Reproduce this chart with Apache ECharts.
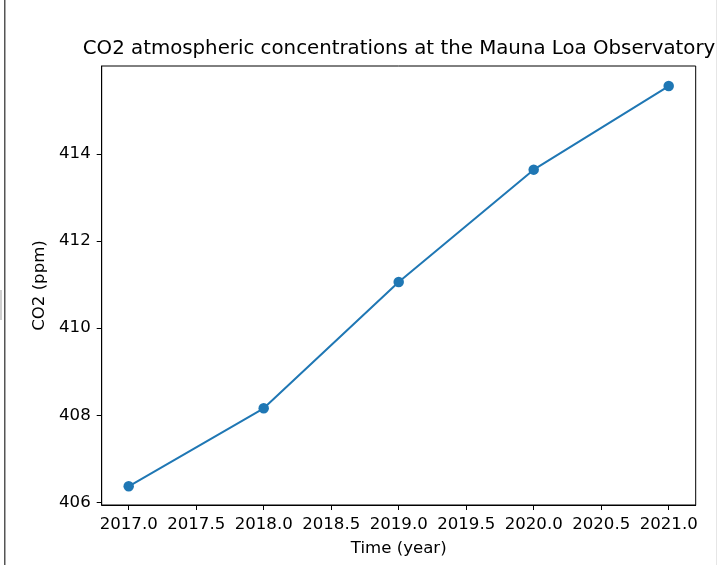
<!DOCTYPE html>
<html>
<head>
<meta charset="utf-8">
<script src="https://cdn.jsdelivr.net/npm/echarts@6/dist/echarts.min.js"></script>
<style>
  html, body { margin: 0; padding: 0; background: #fff; }
  #chart { width: 724px; height: 565px; }
</style>
</head>
<body>
<div id="chart"></div>
<script>
// Annual mean CO2 at Mauna Loa
const years = [2017, 2018, 2019, 2020, 2021];
const co2 = [406.37, 408.16, 411.06, 413.64, 415.56];
const xTicks = [2017.0, 2017.5, 2018.0, 2018.5, 2019.0, 2019.5, 2020.0, 2020.5, 2021.0];
const yTicks = [406, 408, 410, 412, 414];

const font = 'DejaVu Sans';
const chart = echarts.init(document.getElementById('chart'), null, { renderer: 'canvas' });

chart.setOption({
  backgroundColor: '#ffffff',
  animation: false,
  title: {
    text: 'CO2 atmospheric concentrations at the Mauna Loa Observatory',
    left: 394,
    textAlign: 'center',
    top: 34,
    textStyle: { fontFamily: font, fontSize: 19.8, fontWeight: 'normal', color: '#000' }
  },
  grid: {
    left: 101.7, right: 28.3, top: 66, bottom: 60,
    show: true, borderColor: '#000', borderWidth: 1, backgroundColor: 'transparent'
  },
  xAxis: {
    type: 'value',
    min: 2016.8, max: 2021.2,
    name: 'Time (year)',
    nameLocation: 'middle',
    nameGap: 35,
    nameTextStyle: { fontFamily: font, fontSize: 16.6, color: '#000' },
    axisLine: { show: true, lineStyle: { color: '#000', width: 1 } },
    axisTick: { show: true, inside: false, length: 5, customValues: xTicks, lineStyle: { color: '#000' } },
    axisLabel: {
      customValues: xTicks, margin: 11,
      fontFamily: font, fontSize: 16.6, color: '#000',
      formatter: v => v.toFixed(1)
    },
    splitLine: { show: false }
  },
  yAxis: {
    type: 'value',
    min: 405.94, max: 416.02,
    name: 'CO2 (ppm)',
    nameLocation: 'middle',
    nameGap: 51,
    nameRotate: 90,
    nameTextStyle: { fontFamily: font, fontSize: 16.6, color: '#000' },
    axisLine: { show: true, lineStyle: { color: '#000', width: 1 } },
    axisTick: { show: true, inside: false, length: 5, customValues: yTicks, lineStyle: { color: '#000' } },
    axisLabel: {
      customValues: yTicks, margin: 11,
      fontFamily: font, fontSize: 16.6, color: '#000',
      formatter: v => String(Math.round(v))
    },
    splitLine: { show: false }
  },
  series: [{
    type: 'line',
    data: years.map((y, i) => [y, co2[i]]),
    color: '#1f77b4',
    lineStyle: { width: 2, color: '#1f77b4' },
    symbol: 'circle',
    symbolSize: 10.5,
    showSymbol: true,
    itemStyle: { color: '#1f77b4' }
  }],
  graphic: [
    { type: 'rect', shape: { x: 4, y: 0, width: 1.5, height: 565 }, style: { fill: '#555' }, silent: true },
    { type: 'rect', shape: { x: 716, y: 0, width: 1, height: 565 }, style: { fill: '#e6e6e6' }, silent: true },
    { type: 'rect', shape: { x: 0, y: 290, width: 2, height: 30 }, style: { fill: '#cfcfcf' }, silent: true }
  ]
});
</script>
</body>
</html>
